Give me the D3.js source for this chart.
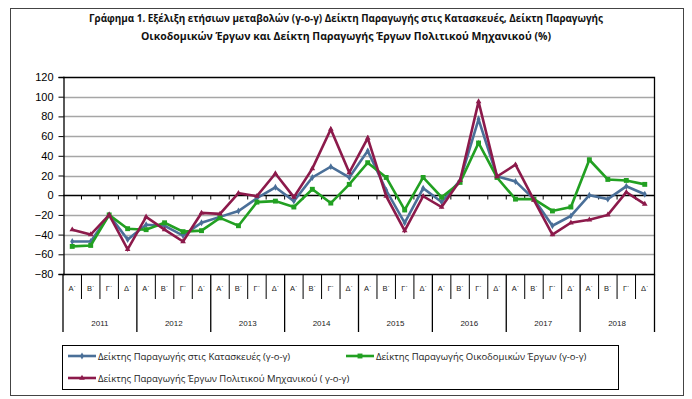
<!DOCTYPE html>
<html>
<head>
<meta charset="utf-8">
<script src="https://cdn.jsdelivr.net/npm/d3@7"></script>
<style>
  body { margin: 0; background: #fff; }
  svg { display: block; }
</style>
</head>
<body>
<svg id="chart"></svg>
<script>
const years = ['2011','2012','2013','2014','2015','2016','2017','2018'];
const quarters = ['Α΄','Β΄','Γ΄','Δ΄'];
const yTicks = [-80,-60,-40,-20,0,20,40,60,80,100,120];

const construction = [-47,-47,-20,-45,-30,-31,-41,-28,-22,-16,-3,8,-6,18,29,18,45,5,-28,7,-7,15,77,19,14,-4,-31,-21,0,-4,9,1];
const building = [-52,-51,-20,-34,-35,-28,-37,-36,-23,-31,-7,-6,-12,6,-8,11,33,18,-15,18,-2,13,53,18,-4,-4,-16,-12,36,16,15,11];
const civil = [-35,-40,-20,-55,-22,-35,-47,-18,-19,2,-1,22,-2,27,67,23,58,-1,-36,-1,-12,15,95,19,31,-5,-40,-28,-25,-20,3,-9];

const series = [
  {name: 'Δείκτης Παραγωγής στις Κατασκευές (γ-ο-γ)', values: construction, color: '#4a6f98', marker: 'diamond'},
  {name: 'Δείκτης Παραγωγής Οικοδομικών Έργων (γ-ο-γ)', values: building, color: '#22a022', marker: 'square'},
  {name: 'Δείκτης Παραγωγής Έργων Πολιτικού Μηχανικού ( γ-ο-γ)', values: civil, color: '#8c1a4b', marker: 'triangle'}
];

const W = 692, H = 399;
const svg = d3.select('#chart').attr('width', W).attr('height', H)
  .style('font-family', '"Liberation Sans", Arial, sans-serif');

// outer frame
svg.append('rect').attr('x', 10.5).attr('y', 8.5).attr('width', 673).attr('height', 387)
  .attr('fill', 'none').attr('stroke', '#444').attr('stroke-width', 1);

// title
const title = svg.append('g').attr('font-family', '"Open Sans", "Noto Sans", sans-serif')
  .attr('font-weight', 'bold').attr('font-size', 11).attr('fill', '#111').attr('text-anchor', 'middle');
title.append('text').attr('x', 346).attr('y', 22)
  .attr('textLength', 514).attr('lengthAdjust', 'spacingAndGlyphs')
  .text('Γράφημα 1. Εξέλιξη ετήσιων μεταβολών (γ-ο-γ) Δείκτη Παραγωγής στις Κατασκευές, Δείκτη Παραγωγής');
title.append('text').attr('x', 346).attr('y', 40)
  .attr('textLength', 410).attr('lengthAdjust', 'spacingAndGlyphs')
  .text('Οικοδομικών Έργων και  Δείκτη Παραγωγής  Έργων Πολιτικού Μηχανικού (%)');

const cats = d3.range(32);
const x = d3.scaleBand().domain(cats).range([63, 654]);
const y = d3.scaleLinear().domain([-80, 120]).range([274, 77]);

// gridlines
svg.append('g').selectAll('line').data(yTicks.filter(d => d !== 0 && d !== -80 && d !== 120)).join('line')
  .attr('x1', 63).attr('x2', 654)
  .attr('y1', d => Math.round(y(d)) + 0.5).attr('y2', d => Math.round(y(d)) + 0.5)
  .attr('stroke', '#a6a6a6').attr('stroke-width', 1.5);

// plot frame top/right/bottom
svg.append('path')
  .attr('d', `M63,${Math.round(y(120)) + 0.5}H654.5V${Math.round(y(-80)) + 0.5}H63`)
  .attr('fill', 'none').attr('stroke', '#000').attr('stroke-width', 1.3);

// y axis
const yAxis = svg.append('g').attr('transform', 'translate(63.5,0)')
  .call(d3.axisLeft(y).tickValues(yTicks).tickSize(5).tickPadding(5));
yAxis.select('.domain').attr('stroke-width', 1.3);
yAxis.selectAll('text').attr('font-size', 11).attr('fill', '#000')
  .attr('font-family', '"Liberation Sans", Arial, sans-serif');

// zero line with ticks at category boundaries
const zy = Math.round(y(0)) + 0.5;
svg.append('line').attr('x1', 63).attr('x2', 654).attr('y1', zy).attr('y2', zy)
  .attr('stroke', '#000').attr('stroke-width', 1.3);
svg.append('g').selectAll('line').data(cats.slice(1)).join('line')
  .attr('x1', d => x(d)).attr('x2', d => x(d))
  .attr('y1', zy).attr('y2', zy + 4)
  .attr('stroke', '#000');

// category table
const by = Math.round(y(-80)) + 0.5;
svg.append('g').selectAll('line').data(d3.range(33)).join('line')
  .attr('x1', d => d === 32 ? 654.5 : x(d)).attr('x2', d => d === 32 ? 654.5 : x(d))
  .attr('y1', by).attr('y2', d => d % 4 === 0 ? 332 : 299)
  .attr('stroke', '#000').attr('stroke-width', d => d % 4 === 0 ? 1.3 : 1);
svg.append('g').selectAll('text').data(cats).join('text')
  .attr('x', d => x(d) + x.bandwidth() / 2).attr('y', 291)
  .attr('text-anchor', 'middle').attr('font-size', 7.5).attr('fill', '#222')
  .text(d => quarters[d % 4]);
svg.append('g').selectAll('text').data(years).join('text')
  .attr('x', (d, i) => x(i * 4) + x.bandwidth() * 2).attr('y', 326)
  .attr('text-anchor', 'middle').attr('font-size', 8).attr('fill', '#222')
  .text(d => d);

// lines and markers
const line = d3.line().x((d, i) => x(i) + x.bandwidth() / 2).y(d => y(d));
const markerPath = {
  diamond: d3.symbol(d3.symbolDiamond, 14)(),
  square: d3.symbol(d3.symbolSquare, 24)(),
  triangle: d3.symbol(d3.symbolTriangle, 14)()
};
series.forEach(s => {
  svg.append('path').datum(s.values).attr('d', line)
    .attr('fill', 'none').attr('stroke', s.color).attr('stroke-width', 2.6)
    .attr('stroke-linejoin', 'miter');
  svg.append('g').selectAll('path').data(s.values).join('path')
    .attr('d', markerPath[s.marker])
    .attr('transform', (d, i) => `translate(${x(i) + x.bandwidth() / 2},${y(d)})`)
    .attr('fill', s.color);
});

// legend
const lg = svg.append('g');
lg.append('rect').attr('x', 62.5).attr('y', 345.5).attr('width', 556).attr('height', 44)
  .attr('fill', '#fff').attr('stroke', '#000').attr('stroke-width', 1);
const legendPos = [[68, 356], [346, 356], [68, 378]];
series.forEach((s, i) => {
  const [lx, ly] = legendPos[i];
  lg.append('line').attr('x1', lx).attr('x2', lx + 28).attr('y1', ly).attr('y2', ly)
    .attr('stroke', s.color).attr('stroke-width', 2.6);
  lg.append('path').attr('d', markerPath[s.marker])
    .attr('transform', `translate(${lx + 14},${ly})`).attr('fill', s.color);
  lg.append('text').attr('x', lx + 30).attr('y', ly + 3.5)
    .attr('font-family', '"Open Sans", "Noto Sans", sans-serif')
    .attr('font-size', 9.5).attr('fill', '#222').text(s.name);
});
</script>
</body>
</html>
